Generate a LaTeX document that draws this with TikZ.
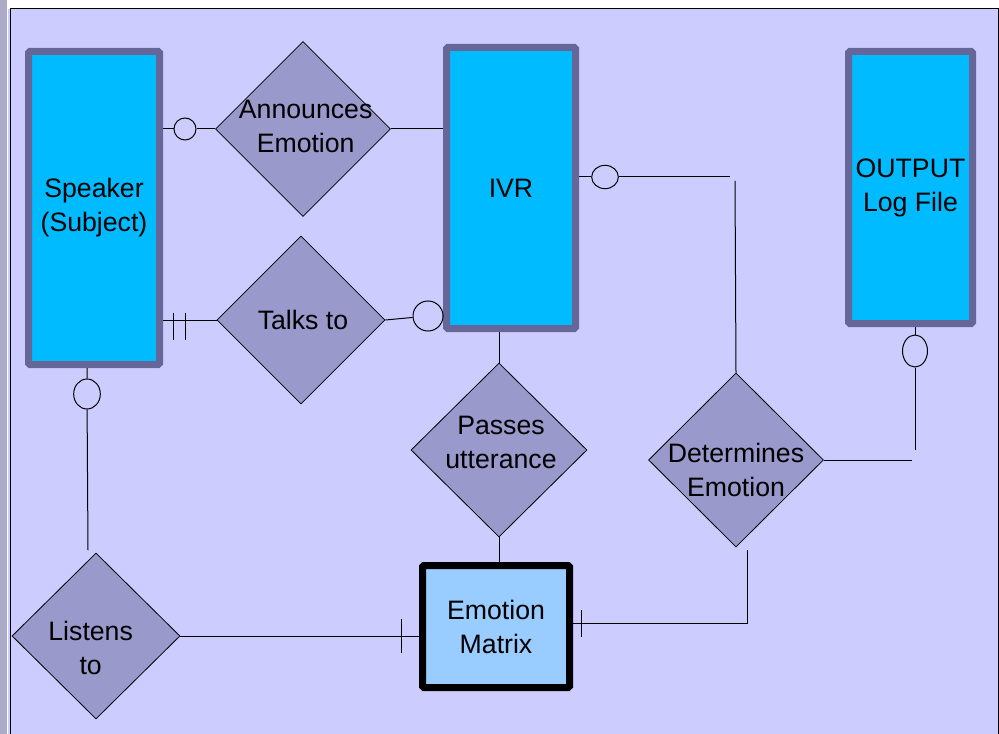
\documentclass[tikz,border=0pt]{standalone}
\usepackage{fontspec}
\setmainfont{Liberation Sans}
\usetikzlibrary{shapes.geometric}

\definecolor{lavender}{RGB}{204,204,255}
\definecolor{slate}{RGB}{102,102,153}
\definecolor{cyanbox}{RGB}{0,187,255}
\definecolor{relfill}{RGB}{153,153,204}
\definecolor{matrixfill}{RGB}{153,204,255}

\begin{document}
\begin{tikzpicture}[x=0.75pt,y=0.75pt,yscale=-1,
  entity/.style={rectangle,draw=slate,line width=5.25pt,rounded corners=1pt,fill=cyanbox,align=center,font=\fontsize{20}{25.5}\selectfont},
  weak/.style={entity,draw=black,fill=matrixfill},
  relation/.style={diamond,draw=black,line width=0.6pt,fill=relfill,inner sep=0pt},
  optional/.style={ellipse,draw=black,line width=0.75pt,inner sep=0pt},
  link/.style={draw=black,line width=0.75pt},
  every label/.style={align=center,font=\fontsize{20}{25.5}\selectfont}]

\useasboundingbox (0,0) rectangle (999,734);
\fill [white] (0,0) rectangle (999,734);
\fill [lavender] (8,9) rectangle (999,734);
\fill [slate!55] (0,0) rectangle (7,734);
\draw [line width=0.75pt] (10,734) -- (10,9) -- (998,9) -- (998,734);

% entities
\node [entity,minimum width=98.25pt,minimum height=234.75pt] (spk) at (94,208) {Speaker\\(Subject)};
\node [entity,minimum width=96.75pt,minimum height=210.75pt] (ivr) at (511,188) {IVR};
\node [entity,minimum width=93pt,minimum height=204pt] (out) at (910.5,187.5) {OUTPUT\\Log File};
\node [weak,minimum width=110.25pt,minimum height=91.5pt] (emo) at (496,626.5) {Emotion\\Matrix};

% relationships
\node [relation,minimum width=131.25pt,minimum height=131.25pt,label={[xshift=2pt,yshift=2pt]center:Announces\\Emotion}] (ann) at (303,129) {};
\node [relation,minimum width=126pt,minimum height=126pt,label={[xshift=1.5pt]center:Talks to}] (tlk) at (301,320) {};
\node [relation,minimum width=132pt,minimum height=130.5pt,label={[xshift=1.5pt,yshift=6pt]center:Passes\\utterance}] (pas) at (499,450) {};
\node [relation,minimum width=131.25pt,minimum height=130.5pt,label={[yshift=-7.5pt]center:Determines\\Emotion}] (det) at (736,460) {};
\node [relation,minimum width=126pt,minimum height=124.5pt,label={[xshift=-4pt,yshift=-9pt]center:Listens\\to}] (lis) at (96,636) {};

% optionality circles
\node [optional,minimum width=16.5pt,minimum height=16.5pt] (o1) at (185,129) {};
\node [optional,minimum width=22.5pt,minimum height=22.5pt] (o2) at (428,316) {};
\node [optional,minimum width=20pt,minimum height=17.5pt] (o3) at (605,177) {};
\node [optional,minimum width=20pt,minimum height=22.5pt] (o4) at (87,394) {};
\node [optional,minimum width=18.75pt,minimum height=24pt] (o5) at (915,351) {};

\coordinate (ivrjog) at (730,177);
\coordinate (detjog) at (735,181);
\coordinate (detdrop) at (747,550);
\coordinate (detcorner) at (747,623);
\coordinate (outjog) at (912,456);
\coordinate (outrise) at (915,450);
\coordinate (lisend) at (88,550);
\coordinate (bar1) at (173,326);
\coordinate (bar2) at (185,326);
\coordinate (bar3) at (401,636);
\coordinate (bar4) at (581,623);

% connectors
\draw [link] (spk.east |- o1) -- (o1) -- (ann.west);
\draw [link] (ann.east) -- (ivr.west |- ann.east);
\draw [link] (spk.east |- tlk.west) -- (tlk.west);
\draw [link] (bar1) ++(0,-13) -- ++(0,27);
\draw [link] (bar2) ++(0,-13) -- ++(0,27);
\draw [link] (tlk.east) -- (o2) -- (ivr.west |- o2);
\draw [link] (ivr.east |- o3) -- (o3) -- (ivrjog);
\draw [link] (detjog) -- (det.north);
\draw [link] (ivr.south -| pas.north) -- (pas.north);
\draw [link] (pas.south) -- (pas.south |- emo.north);
\draw [link] (spk.south -| o4) -- (o4) -- (lisend);
\draw [link] (lis.east) -- (emo.west |- lis.east);
\draw [link] (bar3) ++(0,-17) -- ++(0,34);
\draw [link] (detdrop) -- (detcorner) -- (emo.east |- detcorner);
\draw [link] (bar4) ++(0,-13) -- ++(0,27);
\draw [link] (det.east) -- (det.east -| outjog);
\draw [link] (outrise) -- (o5) -- (o5 |- out.south);

\end{tikzpicture}
\end{document}
